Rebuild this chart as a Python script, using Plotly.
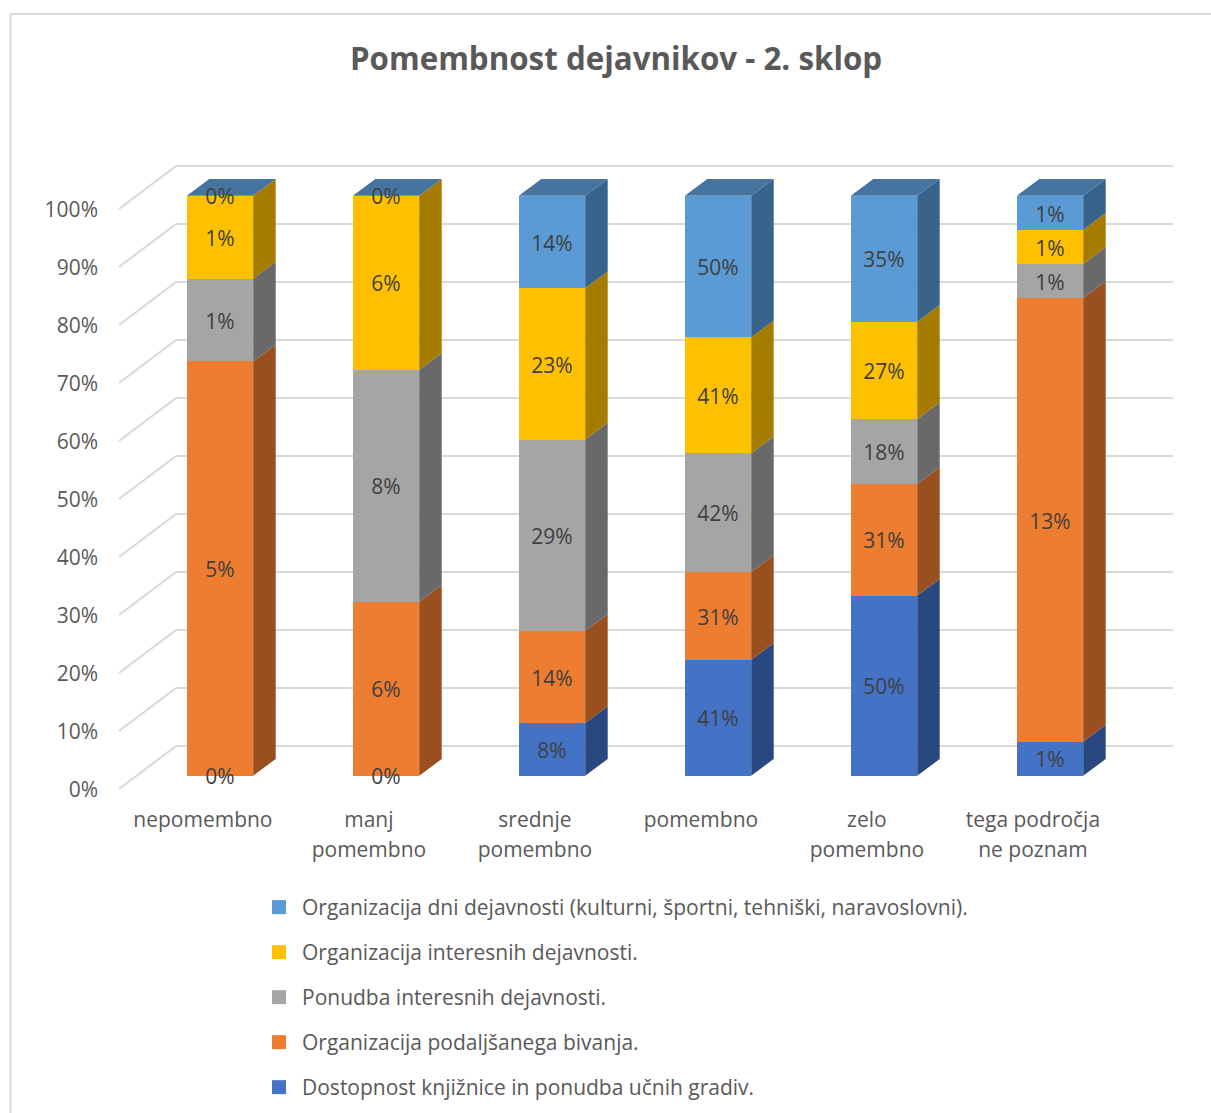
import plotly.graph_objects as go

TITLE = "Pomembnost dejavnikov - 2. sklop"
cat_line1 = ["nepomembno", "manj", "srednje", "pomembno", "zelo", "tega področja"]
cat_line2 = ["", "pomembno", "pomembno", "", "pomembno", "ne poznam"]
y_ticks = [0, 10, 20, 30, 40, 50, 60, 70, 80, 90, 100]

# bottom-to-top stacking order
s_knjiznica = [0, 0, 8, 41, 50, 1]
s_bivanje = [5, 6, 14, 31, 31, 13]
s_ponudba = [1, 8, 29, 42, 18, 1]
s_organizacija = [1, 6, 23, 41, 27, 1]
s_dnevi = [0, 0, 14, 50, 35, 1]

names = [
    "Dostopnost knjižnice in ponudba učnih gradiv.",
    "Organizacija podaljšanega bivanja.",
    "Ponudba interesnih dejavnosti.",
    "Organizacija interesnih dejavnosti.",
    "Organizacija dni dejavnosti (kulturni, športni, tehniški, naravoslovni).",
]
series = [s_knjiznica, s_bivanje, s_ponudba, s_organizacija, s_dnevi]
front = ["#4472C4", "#ED7D31", "#A5A5A5", "#FFC000", "#5B9BD5"]
side = ["#2A4880", "#9A4F1E", "#696969", "#A67C00", "#38648C"]
top_color = "#44749F"

FONT = "Open Sans"
TXT = "#595959"
GRID = "#D9D9D9"

# pixel geometry of the page
W, H = 1211, 1113
L, R, T, B = 118, 1180, 150, 800
X0, PITCH = 220.0, 166.0
Y0, PXPCT = 775.7, 5.8
px_to_x = lambda p: (p - X0) / PITCH
py_to_y = lambda p: (Y0 - p) / PXPCT
paper_x = lambda p: (p - L) / (R - L)
paper_y = lambda p: (B - p) / (B - T)

BAR_W = 0.4
DX = 22.5 / PITCH
DY = 16.7 / PXPCT
WALL_DY = py_to_y(746)
TICK_DY = py_to_y(789)
LABEL_SHIFT = 3.5 / PXPCT
YTICK_SHIFT = 1.0 / PXPCT

xs = list(range(len(cat_line1)))
totals = [sum(s[i] for s in series) for i in xs]

fig = go.Figure()
for k, (vals, name) in enumerate(zip(series, names)):
    fig.add_trace(go.Bar(x=xs, y=vals, name=name, marker=dict(color=front[k], line=dict(width=0)),
                         showlegend=False, hoverinfo="skip"))

# 3-D side faces, derived from the stack
lo = [0.0] * len(xs)
label_traces = []
for k, vals in enumerate(series):
    px, py, lx, ly, lt = [], [], [], [], []
    for i in xs:
        h = vals[i] / totals[i] * 100
        a, b = lo[i], lo[i] + h
        r = i + BAR_W / 2
        if h > 0:
            px += [r, r + DX, r + DX, r, r, None]
            py += [a, a + DY, b + DY, b, a, None]
        lx.append(i)
        ly.append((a + b) / 2 - LABEL_SHIFT)
        lt.append(f"{vals[i]}%")
        lo[i] = b
    fig.add_trace(go.Scatter(x=px, y=py, mode="lines", fill="toself", fillcolor=side[k],
                             line=dict(width=0), showlegend=False, hoverinfo="skip"))
    label_traces.append(go.Scatter(x=lx, y=ly, mode="text", text=lt, textposition="middle center",
                                   textfont=dict(family=FONT, size=21, color="#404040"),
                                   showlegend=False, hoverinfo="skip"))

# top caps
cx, cy = [], []
for i in xs:
    l, r = i - BAR_W / 2, i + BAR_W / 2
    cx += [l, r, r + DX, l + DX, l, None]
    cy += [100, 100, 100 + DY, 100 + DY, 100, None]
fig.add_trace(go.Scatter(x=cx, y=cy, mode="lines", fill="toself", fillcolor=top_color,
                         line=dict(width=0), showlegend=False, hoverinfo="skip"))
for t in label_traces:
    fig.add_trace(t)

# legend entries, top row first
for k in reversed(range(len(names))):
    fig.add_trace(go.Scatter(x=[None], y=[None], mode="markers", name=names[k], legendgroup=names[k],
                             marker=dict(symbol="square", size=14, color=front[k])))

# helper trace so the second label row axis exists
fig.add_trace(go.Scatter(x=[None], y=[None], xaxis="x2", showlegend=False, hoverinfo="skip"))

shapes = []
xl, xb, xe = px_to_x(119), px_to_x(176), px_to_x(1173)
for v in y_ticks:
    shapes.append(dict(type="line", layer="below", xref="x", yref="y", x0=xb, x1=xe,
                       y0=v + WALL_DY, y1=v + WALL_DY, line=dict(color=GRID, width=2)))
    shapes.append(dict(type="line", layer="below", xref="x", yref="y", x0=xl, x1=xb,
                       y0=v + TICK_DY, y1=v + WALL_DY, line=dict(color=GRID, width=2)))
# chart frame (left and top edges; the picture crops the rest)
shapes.append(dict(type="line", xref="paper", yref="paper", x0=paper_x(10.5), x1=paper_x(10.5),
                   y0=paper_y(14), y1=paper_y(H), line=dict(color=GRID, width=2)))
shapes.append(dict(type="line", xref="paper", yref="paper", x0=paper_x(10.5), x1=paper_x(W),
                   y0=paper_y(14), y1=paper_y(14), line=dict(color=GRID, width=2)))

x_range = [px_to_x(L), px_to_x(R)]
xaxis_common = dict(range=x_range, showgrid=False, zeroline=False, showline=False,
                    tickmode="array", tickvals=[i - 0.103 for i in xs],
                    tickfont=dict(family=FONT, size=21, color=TXT), ticks="outside",
                    tickcolor="rgba(0,0,0,0)", tickangle=0)

fig.update_layout(
    width=W, height=H, margin=dict(l=L, r=W - R, t=T, b=H - B, autoexpand=False),
    paper_bgcolor="white", plot_bgcolor="rgba(0,0,0,0)",
    barmode="stack", barnorm="percent", bargap=0.6,
    title=dict(text=f"<b>{TITLE}</b>", x=paper_x(616), xanchor="center", xref="paper",
               y=1 - 59 / H, yanchor="middle", font=dict(family=FONT, size=31.3, color=TXT)),
    xaxis=dict(ticktext=cat_line1, ticklen=1, **xaxis_common),
    xaxis2=dict(ticktext=cat_line2, ticklen=31, overlaying="x", anchor="y", side="bottom", **xaxis_common),
    yaxis=dict(range=[py_to_y(B), py_to_y(T)], showgrid=False, zeroline=False, showline=False,
               tickmode="array", tickvals=[v + TICK_DY - YTICK_SHIFT for v in y_ticks],
               ticktext=[f"{v}%" for v in y_ticks], ticks="", ticklabelstandoff=19,
               tickfont=dict(family=FONT, size=21, color=TXT)),
    shapes=shapes,
    legend=dict(x=paper_x(256), xanchor="left", y=paper_y(887), yanchor="top",
                traceorder="grouped", tracegroupgap=14.7, itemwidth=36,
                font=dict(family=FONT, size=21, color=TXT), bgcolor="rgba(0,0,0,0)"),
    showlegend=True,
)
fig.write_html("out.html", config={"displayModeBar": False},
               post_script="document.body.style.margin='0';document.documentElement.style.overflow='hidden';")
